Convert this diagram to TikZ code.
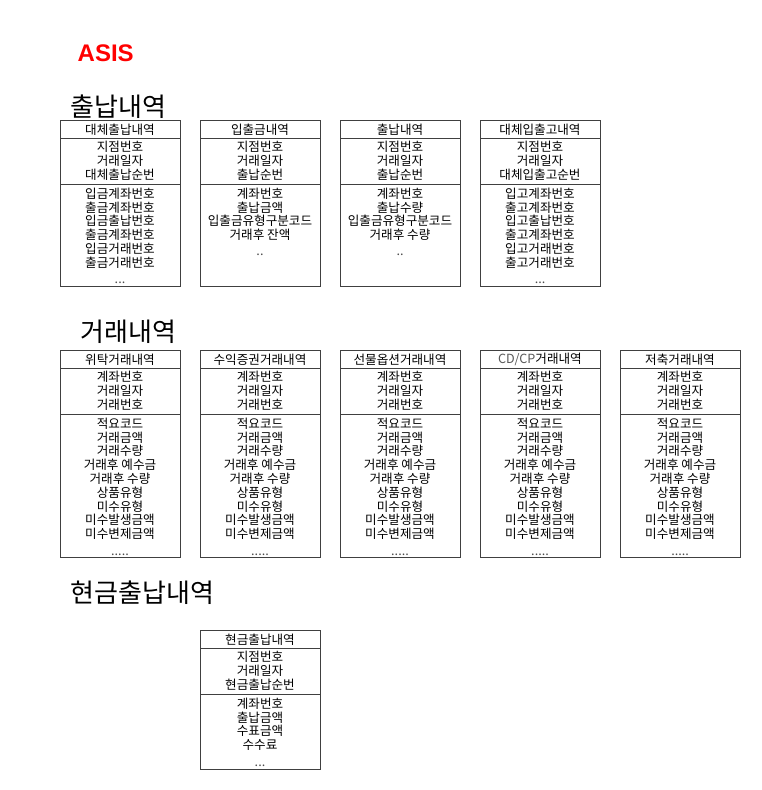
\documentclass[tikz,border=0pt]{standalone}
\usepackage{fontspec}
\setmainfont{Noto Sans CJK KR}
\newfontfamily\asisfont{Liberation Sans}
\usetikzlibrary{calc}
\tikzset{
  tbox/.style={draw=black!75, line width=0.9pt, inner sep=0pt, minimum width=120pt, anchor=north west},
  tsep/.style={draw=black!75, line width=0.9pt},
  ttext/.style={inner sep=0pt, align=center, font=\fontsize{12.6}{13.8}\selectfont, anchor=north},
  thead/.style={inner sep=0pt, font=\fontsize{12.6}{13.8}\selectfont},
  section/.style={inner sep=0pt, anchor=west, font=\fontsize{26}{28}\selectfont},
}
% #1 name, #2 left, #3 top, #4 header sep, #5 key sep, #6 bottom, #7 header, #8 keys, #9 attrs
\newcommand\dbtable[9]{%
  \node[tbox, minimum height={(#6-#3)*1pt}] (#1) at (#2,#3) {};
  \coordinate (#1hl) at (#2,#4);
  \coordinate (#1hr) at (#2+120,#4);
  \coordinate (#1kl) at (#2,#5);
  \coordinate (#1kr) at (#2+120,#5);
  \draw[tsep] (#1hl) -- (#1hr);
  \draw[tsep] (#1kl) -- (#1kr);
  \node[thead] (#1head) at ({#2+60},{(#3+#4)/2+0.5}) {#7};
  \node[ttext] (#1keys) at ({#2+60},{#4+3.3}) {#8};
  \node[ttext] (#1attrs) at ({#2+60},{#5+3.6}) {#9};
}
\begin{document}
\begin{tikzpicture}[x=1pt,y=-1pt]
\useasboundingbox[fill=white] (0,0) rectangle (762,790);

\node[inner sep=0pt, anchor=west, text=red, font=\asisfont\bfseries\fontsize{24}{26}\selectfont] (asis) at (77.5,52.8) {ASIS};

\node[section] (s1) at (70.5,107) {출납내역};
\node[section] (s2) at (80.5,332) {거래내역};
\node[section] (s3) at (70.5,593) {현금출납내역};

\dbtable{a1}{60}{120}{138}{184}{286}{대체출납내역}{지점번호\\거래일자\\대체출납순번}{입금계좌번호\\출금계좌번호\\입금출납번호\\출금계좌번호\\입금거래번호\\출금거래번호\\[2pt]\textcolor{black!70}{...}}
\dbtable{a2}{200}{120}{138}{184}{286}{입출금내역}{지점번호\\거래일자\\출납순번}{계좌번호\\출납금액\\입출금유형구분코드\\거래후 잔액\\[2pt]\textcolor{black!70}{..}}
\dbtable{a3}{340}{120}{138}{184}{286}{출납내역}{지점번호\\거래일자\\출납순번}{계좌번호\\출납수량\\입출금유형구분코드\\거래후 수량\\[2pt]\textcolor{black!70}{..}}
\dbtable{a4}{480}{120}{138}{184}{286}{대체입출고내역}{지점번호\\거래일자\\대체입출고순번}{입고계좌번호\\출고계좌번호\\입고출납번호\\출고계좌번호\\입고거래번호\\출고거래번호\\[2pt]\textcolor{black!70}{...}}

\dbtable{b1}{60}{350}{368}{414}{557}{위탁거래내역}{계좌번호\\거래일자\\거래번호}{적요코드\\거래금액\\거래수량\\거래후 예수금\\거래후 수량\\상품유형\\미수유형\\미수발생금액\\미수변제금액\\[3pt]\textcolor{black!70}{.....}}
\dbtable{b2}{200}{350}{368}{414}{557}{수익증권거래내역}{계좌번호\\거래일자\\거래번호}{적요코드\\거래금액\\거래수량\\거래후 예수금\\거래후 수량\\상품유형\\미수유형\\미수발생금액\\미수변제금액\\[3pt]\textcolor{black!70}{.....}}
\dbtable{b3}{340}{350}{368}{414}{557}{선물옵션거래내역}{계좌번호\\거래일자\\거래번호}{적요코드\\거래금액\\거래수량\\거래후 예수금\\거래후 수량\\상품유형\\미수유형\\미수발생금액\\미수변제금액\\[3pt]\textcolor{black!70}{.....}}
\dbtable{b4}{480}{350}{368}{414}{557}{\textcolor{black!65}{CD/CP}거래내역}{계좌번호\\거래일자\\거래번호}{적요코드\\거래금액\\거래수량\\거래후 예수금\\거래후 수량\\상품유형\\미수유형\\미수발생금액\\미수변제금액\\[3pt]\textcolor{black!70}{.....}}
\dbtable{b5}{620}{350}{368}{414}{557}{저축거래내역}{계좌번호\\거래일자\\거래번호}{적요코드\\거래금액\\거래수량\\거래후 예수금\\거래후 수량\\상품유형\\미수유형\\미수발생금액\\미수변제금액\\[3pt]\textcolor{black!70}{.....}}

\dbtable{c1}{200}{630}{648}{694}{769}{현금출납내역}{지점번호\\거래일자\\현금출납순번}{계좌번호\\출납금액\\수표금액\\수수료\\[3pt]\textcolor{black!70}{...}}
\end{tikzpicture}
\end{document}
